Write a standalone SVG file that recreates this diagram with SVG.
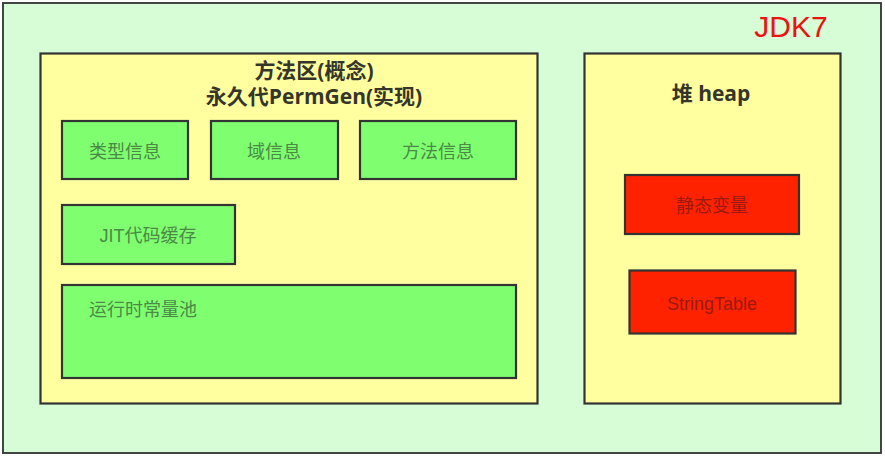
<svg xmlns="http://www.w3.org/2000/svg" width="885" height="457" viewBox="0 0 885 457">
<style>
.box{stroke:#333;stroke-width:2.2}
.area{fill:#ffffa0}
.g{fill:#7fff70}
.r{fill:#ff2200}
.t{font-family:"Open Sans","Noto Sans CJK SC",sans-serif;font-weight:bold;font-size:21px;fill:#35352a;text-anchor:middle}
.gt{font-family:"Liberation Sans","Noto Sans CJK SC",sans-serif;font-size:18px;fill:#4a8a45;text-anchor:middle}
.rt{font-family:"Liberation Sans","Noto Sans CJK SC",sans-serif;font-size:18px;fill:#9a1a10;text-anchor:middle}
</style>
<rect width="885" height="457" fill="#ffffff"/>
<g id="outer">
<rect x="3" y="3" width="878" height="450" fill="#d6fdd6" stroke="#444" stroke-width="2"/>
<text x="791" y="37" font-family="Liberation Sans, sans-serif" font-size="30" fill="#ee1111" text-anchor="middle">JDK7</text>
</g>
<g id="method-area">
<rect class="box area" x="40.5" y="53.5" width="497" height="350"/>
<text class="t" x="314" y="78">方法区(概念)</text>
<text class="t" x="314" y="104">永久代PermGen(实现)</text>
</g>
<g id="type-info">
<rect class="box g" x="62" y="121" width="126" height="58"/>
<text class="gt" x="125" y="158">类型信息</text>
</g>
<g id="field-info">
<rect class="box g" x="211" y="121" width="127" height="58"/>
<text class="gt" x="274" y="158">域信息</text>
</g>
<g id="method-info">
<rect class="box g" x="360" y="121" width="156" height="58"/>
<text class="gt" x="438" y="158">方法信息</text>
</g>
<g id="jit">
<rect class="box g" x="62" y="205" width="173" height="59"/>
<text class="gt" x="148" y="242">JIT代码缓存</text>
</g>
<g id="runtime-pool">
<rect class="box g" x="62" y="285" width="454" height="93"/>
<text class="gt" x="89" y="316" style="text-anchor:start">运行时常量池</text>
</g>
<g id="heap">
<rect class="box area" x="584.5" y="53.5" width="256" height="350"/>
<text class="t" x="711" y="101">堆 heap</text>
</g>
<g id="static-vars">
<rect class="box r" x="625" y="175" width="174" height="59"/>
<text class="rt" x="712" y="212">静态变量</text>
</g>
<g id="string-table">
<rect class="box r" x="629.5" y="270.5" width="166" height="63"/>
<text class="rt" x="712" y="310" font-size="19">StringTable</text>
</g>
<g id="connectors"></g>
</svg>
